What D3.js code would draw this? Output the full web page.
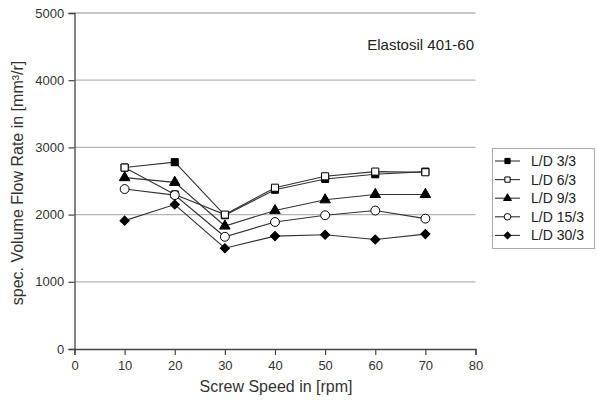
<!DOCTYPE html>
<html>
<head>
<meta charset="utf-8">
<script src="https://cdn.jsdelivr.net/npm/d3@7"></script>
<style>
  html, body { margin: 0; padding: 0; background: #fff; }
  svg { display: block; font-family: "Liberation Sans", Arial, sans-serif; }
</style>
</head>
<body>
<svg id="chart" width="597" height="400"></svg>
<script>
// Screw speed (rpm) for each measurement
const screwSpeed = [10, 20, 30, 40, 50, 60, 70];

// Specific volume flow rate [mm³/r] per L/D ratio
const seriesNames = ["L/D 3/3", "L/D 6/3", "L/D 9/3", "L/D 15/3", "L/D 30/3"];
const ld3  = [2700, 2780, 1990, 2370, 2530, 2600, 2640];
const ld6  = [2700, 2300, 2000, 2400, 2570, 2640, 2630];
const ld9  = [2550, 2480, 1830, 2060, 2220, 2300, 2300];
const ld15 = [2380, 2290, 1670, 1890, 1990, 2060, 1940];
const ld30 = [1910, 2150, 1500, 1680, 1700, 1630, 1710];
const seriesValues = [ld3, ld6, ld9, ld15, ld30];

const xTicks = [0, 10, 20, 30, 40, 50, 60, 70, 80];
const yTicks = [0, 1000, 2000, 3000, 4000, 5000];

const svg = d3.select("#chart");
const plotLeft = 74.5, plotRight = 475.5, plotTop = 13, plotBottom = 349;

const x = d3.scaleLinear().domain([0, 80]).range([plotLeft, plotRight]);
const y = d3.scaleLinear().domain([0, 5000]).range([plotBottom, plotTop]);

// Horizontal grid lines
svg.append("g")
  .selectAll("line")
  .data(yTicks.filter(d => d > 0))
  .join("line")
  .attr("x1", plotLeft).attr("x2", plotRight)
  .attr("y1", d => y(d)).attr("y2", d => y(d))
  .attr("stroke", "#b4b4b4").attr("stroke-width", 1.3);

// Axes with minor ticks
const axisColor = "#444";
const xAxis = svg.append("g").attr("transform", `translate(0,${plotBottom})`);
xAxis.call(d3.axisBottom(x).tickValues(d3.range(5, 80, 10)).tickSize(4).tickFormat(""));
xAxis.call(d3.axisBottom(x).tickValues(xTicks).tickSize(6).tickFormat(d3.format("d")));
xAxis.selectAll("text").attr("font-size", 13).attr("fill", "#333").attr("dy", "0.95em");

const yAxis = svg.append("g").attr("transform", `translate(${plotLeft},0)`);
yAxis.call(d3.axisLeft(y).tickValues(d3.range(500, 5000, 1000)).tickSize(4).tickFormat(""));
yAxis.call(d3.axisLeft(y).tickValues(yTicks).tickSize(6).tickFormat(d3.format("d")));
yAxis.selectAll("text").attr("font-size", 13).attr("fill", "#333").attr("dx", "-0.1em");

svg.selectAll(".domain").attr("stroke", axisColor).attr("stroke-width", 1.3);
svg.selectAll(".tick line").attr("stroke", axisColor).attr("stroke-width", 1.2);

// Axis titles
svg.append("text")
  .attr("x", (plotLeft + plotRight) / 2 + 1).attr("y", 392)
  .attr("text-anchor", "middle").attr("font-size", 16).attr("fill", "#333")
  .text("Screw Speed in [rpm]");

svg.append("text")
  .attr("transform", `translate(23,${(plotTop + plotBottom) / 2 + 2}) rotate(-90)`)
  .attr("text-anchor", "middle").attr("font-size", 16).attr("fill", "#333")
  .text("spec. Volume Flow Rate in [mm³/r]");

// Material label
svg.append("text")
  .attr("x", 474).attr("y", 50)
  .attr("text-anchor", "end").attr("font-size", 15).attr("fill", "#222")
  .text("Elastosil 401-60");

// Marker styles per series
const markers = [
  { type: d3.symbolSquare, size: 50, rot: 0, fill: "#000" },
  { type: d3.symbolSquare, size: 50, rot: 0, fill: "#fff" },
  { type: d3.symbolTriangle, size: 48, rot: 0, fill: "#000" },
  { type: d3.symbolCircle, size: 62, rot: 0, fill: "#fff" },
  { type: d3.symbolSquare, size: 42, rot: 45, fill: "#000" }
];

const line = d3.line().x((d, i) => x(screwSpeed[i])).y(d => y(d));

seriesValues.forEach((vals, s) => {
  const g = svg.append("g");
  g.append("path")
    .attr("d", line(vals))
    .attr("fill", "none").attr("stroke", "#333").attr("stroke-width", 1.1);
  const m = markers[s];
  g.selectAll("path.pt")
    .data(vals)
    .join("path")
    .attr("class", "pt")
    .attr("d", d3.symbol().type(m.type).size(m.size))
    .attr("transform", (d, i) => `translate(${x(screwSpeed[i])},${y(d)}) rotate(${m.rot})`)
    .attr("fill", m.fill).attr("stroke", "#000").attr("stroke-width", 1);
});

// Legend
const legend = svg.append("g");
legend.append("rect")
  .attr("x", 492.5).attr("y", 148.5).attr("width", 102).attr("height", 100)
  .attr("fill", "#fff").attr("stroke", "#aaa").attr("stroke-width", 1);

seriesNames.forEach((name, s) => {
  const ly = 161 + s * 18.6;
  const m = markers[s];
  legend.append("line")
    .attr("x1", 495).attr("x2", 520).attr("y1", ly).attr("y2", ly)
    .attr("stroke", "#333").attr("stroke-width", 1.1);
  legend.append("path")
    .attr("d", d3.symbol().type(m.type).size(m.size * 0.55))
    .attr("transform", `translate(507.5,${ly}) rotate(${m.rot})`)
    .attr("fill", m.fill).attr("stroke", "#000").attr("stroke-width", 1);
  legend.append("text")
    .attr("x", 531).attr("y", ly).attr("dy", "0.36em")
    .attr("font-size", 14).attr("fill", "#222")
    .text(name);
});
</script>
</body>
</html>
